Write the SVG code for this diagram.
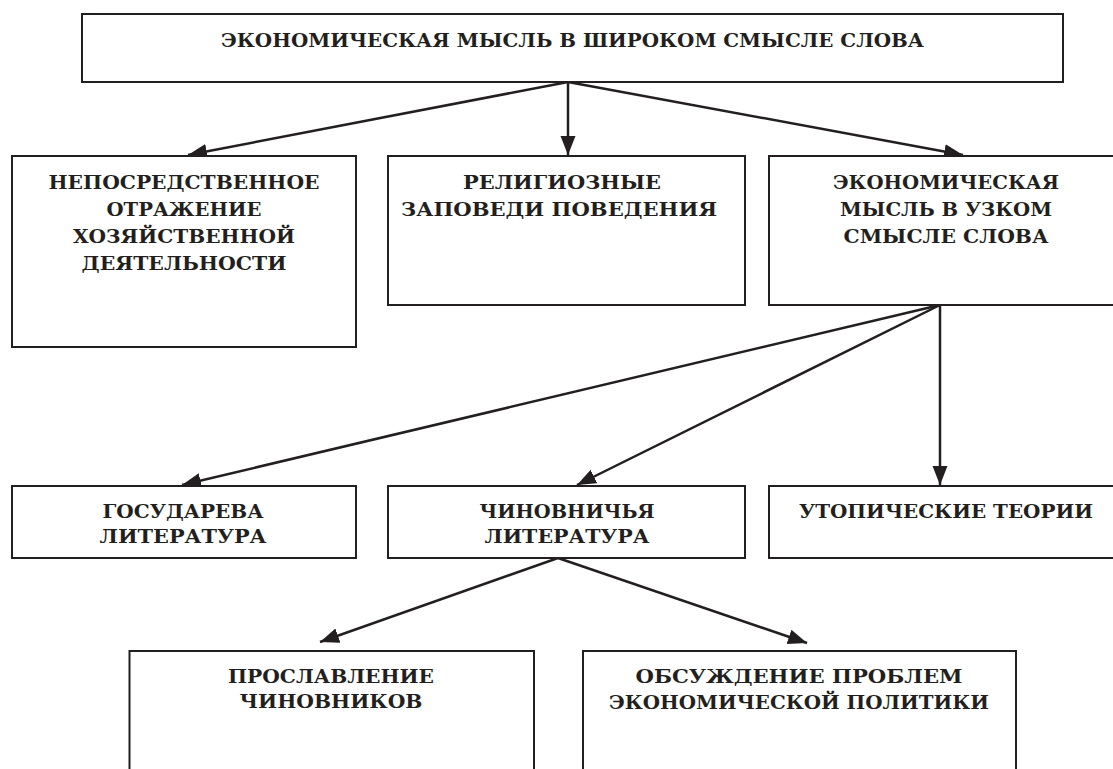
<svg xmlns="http://www.w3.org/2000/svg" width="1113" height="769" viewBox="0 0 1113 769">
<style>
.box{fill:#fff;stroke:#231f20;stroke-width:2}
.t{font-family:"DejaVu Serif","Liberation Serif",serif;font-weight:bold;font-size:18.5px;fill:#231f20;text-anchor:middle}
.c{stroke:#231f20;stroke-width:2.5;fill:none;marker-end:url(#ah)}
</style>
<defs>
<marker id="ah" markerUnits="userSpaceOnUse" markerWidth="22" markerHeight="16" refX="19" refY="7.5" orient="auto"><path d="M0,0 L19,7.5 L0,15 z" fill="#231f20"/></marker>
</defs>
<rect width="1113" height="769" fill="#fff"/>
<g id="connectors">
<line class="c" x1="568" y1="82" x2="188" y2="155"/>
<line class="c" x1="568" y1="82" x2="568" y2="155"/>
<line class="c" x1="568" y1="82" x2="963" y2="155"/>
<line class="c" x1="940" y1="305" x2="182" y2="485"/>
<line class="c" x1="940" y1="305" x2="577" y2="485"/>
<line class="c" x1="940" y1="305" x2="940" y2="485"/>
<line class="c" x1="558" y1="558" x2="320" y2="642"/>
<line class="c" x1="558" y1="558" x2="807" y2="643"/>
</g>
<g id="n0">
<rect class="box" x="82" y="14" width="981" height="68"/>
<text class="t" x="572.5" y="47" textLength="703" lengthAdjust="spacingAndGlyphs">ЭКОНОМИЧЕСКАЯ МЫСЛЬ В ШИРОКОМ СМЫСЛЕ СЛОВА</text>
</g>
<g id="n1">
<rect class="box" x="12" y="156" width="344" height="191"/>
<text class="t" x="184" y="189" textLength="271" lengthAdjust="spacingAndGlyphs">НЕПОСРЕДСТВЕННОЕ</text>
<text class="t" x="184" y="216" textLength="155" lengthAdjust="spacingAndGlyphs">ОТРАЖЕНИЕ</text>
<text class="t" x="184" y="243" textLength="222" lengthAdjust="spacingAndGlyphs">ХОЗЯЙСТВЕННОЙ</text>
<text class="t" x="184" y="270" textLength="205" lengthAdjust="spacingAndGlyphs">ДЕЯТЕЛЬНОСТИ</text>
</g>
<g id="n2">
<rect class="box" x="388" y="156" width="357" height="149"/>
<text class="t" x="562" y="189" textLength="198" lengthAdjust="spacingAndGlyphs">РЕЛИГИОЗНЫЕ</text>
<text class="t" x="559" y="216" textLength="316" lengthAdjust="spacingAndGlyphs">ЗАПОВЕДИ ПОВЕДЕНИЯ</text>
</g>
<g id="n3">
<rect class="box" x="769" y="156" width="360" height="149"/>
<text class="t" x="946" y="189" textLength="226" lengthAdjust="spacingAndGlyphs">ЭКОНОМИЧЕСКАЯ</text>
<text class="t" x="946" y="216" textLength="212" lengthAdjust="spacingAndGlyphs">МЫСЛЬ В УЗКОМ</text>
<text class="t" x="946" y="243" textLength="205" lengthAdjust="spacingAndGlyphs">СМЫСЛЕ СЛОВА</text>
</g>
<g id="n4">
<rect class="box" x="12" y="486" width="344" height="72"/>
<text class="t" x="183" y="518" textLength="161" lengthAdjust="spacingAndGlyphs">ГОСУДАРЕВА</text>
<text class="t" x="183" y="543" textLength="167" lengthAdjust="spacingAndGlyphs">ЛИТЕРАТУРА</text>
</g>
<g id="n5">
<rect class="box" x="388" y="486" width="357" height="72"/>
<text class="t" x="567" y="518" textLength="175" lengthAdjust="spacingAndGlyphs">ЧИНОВНИЧЬЯ</text>
<text class="t" x="567" y="543" textLength="165" lengthAdjust="spacingAndGlyphs">ЛИТЕРАТУРА</text>
</g>
<g id="n6">
<rect class="box" x="769" y="486" width="360" height="72"/>
<text class="t" x="946" y="518" textLength="294" lengthAdjust="spacingAndGlyphs">УТОПИЧЕСКИЕ ТЕОРИИ</text>
</g>
<g id="n7">
<rect class="box" x="129.5" y="651" width="404.5" height="130"/>
<text class="t" x="331" y="683" textLength="206" lengthAdjust="spacingAndGlyphs">ПРОСЛАВЛЕНИЕ</text>
<text class="t" x="331" y="708" textLength="183" lengthAdjust="spacingAndGlyphs">ЧИНОВНИКОВ</text>
</g>
<g id="n8">
<rect class="box" x="583" y="651" width="433" height="130"/>
<text class="t" x="799" y="683" textLength="327" lengthAdjust="spacingAndGlyphs">ОБСУЖДЕНИЕ ПРОБЛЕМ</text>
<text class="t" x="799" y="709" textLength="380" lengthAdjust="spacingAndGlyphs">ЭКОНОМИЧЕСКОЙ ПОЛИТИКИ</text>
</g>
</svg>
